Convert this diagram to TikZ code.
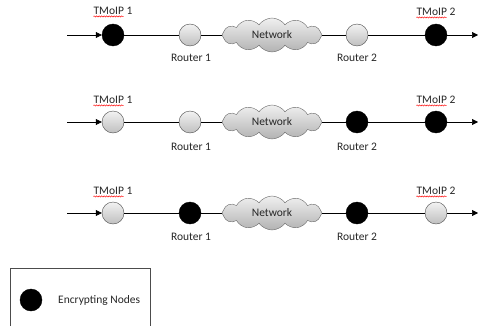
\documentclass[tikz,border=0pt]{standalone}
\usepackage{fontspec}
\setmainfont{Carlito}
\usetikzlibrary{shapes.symbols,decorations.pathmorphing,arrows.meta}
\begin{document}
\begin{tikzpicture}[x=1pt,y=-1pt,
  enc/.style={circle,draw=black,fill=black,minimum size=22pt,inner sep=0pt},
  plain/.style={circle,draw=black!70,top color=black!5,bottom color=black!25,minimum size=22pt,inner sep=0pt},
  net/.style={cloud,cloud puffs=12,cloud puff arc=110,aspect=2.8,draw=black!60,top color=black!6,bottom color=black!30,minimum width=100pt,minimum height=34pt,inner sep=0pt,font=\fontsize{11.5}{13}\selectfont,text=black!85},
  lbl/.style={font=\fontsize{11.5}{13}\selectfont,inner sep=0pt,text=black!85},
  wl/.style={red,line width=0.5pt,decorate,decoration={snake,amplitude=0.6pt,segment length=2.5pt}},
  conn/.style={line width=0.6pt,black},
  tip/.style={-{Triangle[length=6pt,width=6pt]}}
]
\useasboundingbox (0,0) rectangle (478,326);

% Row 1
\coordinate (s1) at (67,35);
\coordinate (e1) at (478,35);
\node[enc] (t11) at (113,35) {};
\node[plain] (r11) at (190,35) {};
\node[net] (n1) at (272,35) {Network};
\node[plain] (r12) at (357,35) {};
\node[enc] (t12) at (436,35) {};
\draw[conn,tip] (s1) -- (t11);
\draw[conn] (t11) -- (r11);
\draw[conn] (r11) -- (n1);
\draw[conn] (n1) -- (r12);
\draw[conn] (r12) -- (t12);
\draw[conn,tip] (t12) -- (e1);
\node[lbl] (lt11) at (113,11) {TMoIP 1};
\node[lbl] (lr11) at (191,58) {Router 1};
\node[lbl] (lr12) at (357,58) {Router 2};
\node[lbl] (lt12) at (436,12) {TMoIP 2};

% Row 2
\coordinate (s2) at (67,122);
\coordinate (e2) at (478,122);
\node[plain] (t21) at (113,122) {};
\node[plain] (r21) at (190,122) {};
\node[net] (n2) at (272,122) {Network};
\node[enc] (r22) at (357,122) {};
\node[enc] (t22) at (436,122) {};
\draw[conn,tip] (s2) -- (t21);
\draw[conn] (t21) -- (r21);
\draw[conn] (r21) -- (n2);
\draw[conn] (n2) -- (r22);
\draw[conn] (r22) -- (t22);
\draw[conn,tip] (t22) -- (e2);
\node[lbl] (lt21) at (113,100) {TMoIP 1};
\node[lbl] (lr21) at (191,147) {Router 1};
\node[lbl] (lr22) at (357,147) {Router 2};
\node[lbl] (lt22) at (436,100) {TMoIP 2};

% Row 3
\coordinate (s3) at (67,213);
\coordinate (e3) at (478,213);
\node[plain] (t31) at (113,213) {};
\node[enc] (r31) at (190,213) {};
\node[net] (n3) at (272,213) {Network};
\node[enc] (r32) at (357,213) {};
\node[plain] (t32) at (436,213) {};
\draw[conn,tip] (s3) -- (t31);
\draw[conn] (t31) -- (r31);
\draw[conn] (r31) -- (n3);
\draw[conn] (n3) -- (r32);
\draw[conn] (r32) -- (t32);
\draw[conn,tip] (t32) -- (e3);
\node[lbl] (lt31) at (113,191) {TMoIP 1};
\node[lbl] (lr31) at (191,237) {Router 1};
\node[lbl] (lr32) at (357,237) {Router 2};
\node[lbl] (lt32) at (436,191) {TMoIP 2};

% spell-check underlines
\foreach \n in {lt11,lt12,lt21,lt22,lt31,lt32}{
  \draw[wl] ([yshift=-1.5pt,xshift=0pt]\n.south west) -- ([yshift=-1.5pt,xshift=-9pt]\n.south east);
}

% Legend
\coordinate (b1) at (10,326);
\coordinate (b2) at (10,268);
\coordinate (b3) at (150,268);
\coordinate (b4) at (150,326);
\draw[black!70,line width=0.6pt] (b1) -- (b2) -- (b3) -- (b4);
\node[enc] (leg) at (31,300) {};
\node[lbl,anchor=west] (legt) at (58,300) {Encrypting Nodes};
\end{tikzpicture}
\end{document}
